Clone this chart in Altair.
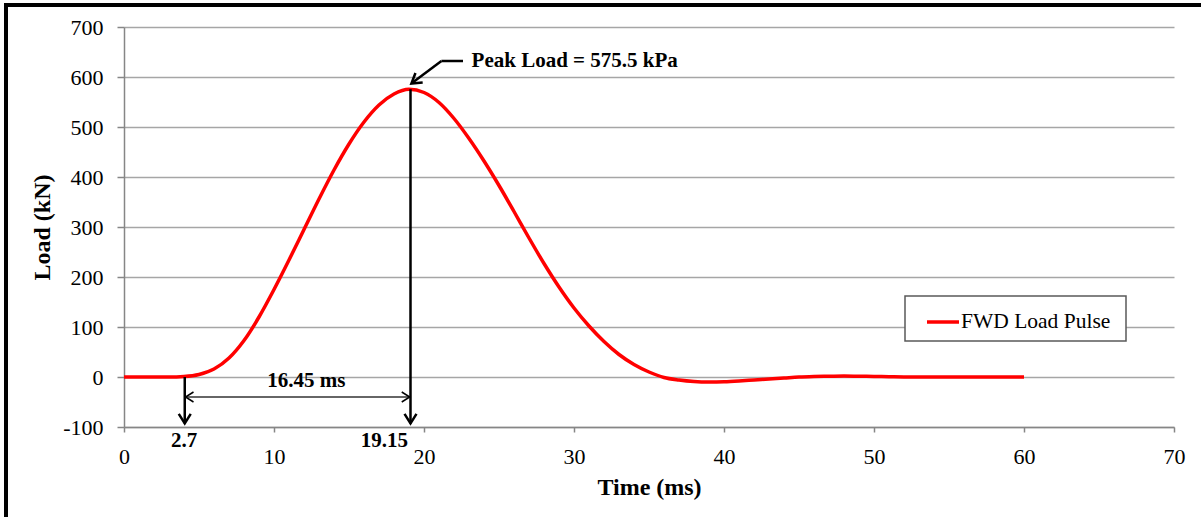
import altair as alt
import pandas as pd

# ---- data ----
time_ms = list(range(0, 61))
load_kn = [0, 0, 0, 0, 1, 5, 16, 38, 73, 120, 175, 234, 295, 356, 414, 466, 510, 544, 566,
           575.5,
           569, 549, 517, 477, 432, 383, 331, 278, 227, 180, 138, 102, 71, 45, 25, 10,
           -1, -6, -9, -10, -9.5, -8, -6, -4, -2, 0, 1, 1.5, 2, 1.5, 1, 0.5,
           0, 0, 0, 0, 0, 0, 0, 0, 0]
series_name = "FWD Load Pulse"

x_ticks = [0, 10, 20, 30, 40, 50, 60, 70]
y_ticks = [-100, 0, 100, 200, 300, 400, 500, 600, 700]

# annotation segments (data coordinates)
seg_x = [4.05, 19.1, 4.1, 22.6, 21.16]
seg_y = [0, 575.5, -40, 632, 632]
seg_x2 = [4.05, 19.1, 19.05, 21.16, 19.2]
seg_y2 = [-93, -93, -40, 632, 588]
seg_w = [2.5, 2.5, 1.5, 2.5, 2.5]
seg_c = ["#000000", "#000000", "#333333", "#000000", "#000000"]

# arrow heads
head_x = [4.05, 19.1, 4.1, 19.05, 19.16]
head_y = [-93, -93, -40, -40, 586.8]
head_angle = [90, 90, 180, 0, 143]
head_size = [144, 144, 100, 100, 144]
head_w = [2.5, 2.5, 1.5, 1.5, 2.5]

# annotation labels
lab_text = ["16.45 ms", "2.7", "19.15"]
lab_x = [12.15, 4.0, 17.35]
lab_y = [-20, -140, -140]
peak_text = ["Peak Load = 575.5 kPa"]
peak_x = [23.17]
peak_y = [620]

FONT = "Liberation Serif"

curve_df = pd.DataFrame({"t": time_ms, "load": load_kn, "series": series_name})
seg_df = pd.DataFrame({"x": seg_x, "y": seg_y, "x2": seg_x2, "y2": seg_y2, "w": seg_w, "c": seg_c})
head_df = pd.DataFrame({"x": head_x, "y": head_y, "a": head_angle, "s": head_size, "w": head_w})
lab_df = pd.DataFrame({"text": lab_text, "x": lab_x, "y": lab_y})
peak_df = pd.DataFrame({"text": peak_text, "x": peak_x, "y": peak_y})

xscale = alt.Scale(domain=[0, 70], nice=False)
yscale = alt.Scale(domain=[-100, 700], nice=False)

xaxis = alt.Axis(values=x_ticks, grid=False, title="Time (ms)",
                 domainColor="#868686", domainWidth=1.5,
                 tickColor="#868686", tickSize=5, tickWidth=1.5,
                 labelFont=FONT, labelFontSize=22, labelColor="black",
                 labelBaseline="alphabetic", labelPadding=31, labelFlush=False,
                 labelExpr="toString(datum.value)",
                 titleFont=FONT, titleFontSize=24, titleFontWeight="bold",
                 titleColor="black", titleBaseline="alphabetic", titleY=67)
yaxis = alt.Axis(values=y_ticks, grid=True, gridColor="#a6a6a6", gridWidth=1.5,
                 title="Load (kN)",
                 domainColor="#868686", domainWidth=1.5,
                 tickColor="#868686", tickSize=7, tickWidth=1.5,
                 labelFont=FONT, labelFontSize=22, labelColor="black",
                 labelPadding=14, labelFlush=False, labelExpr="toString(datum.value)",
                 titleFont=FONT, titleFontSize=24, titleFontWeight="bold",
                 titleColor="black", titleBaseline="alphabetic", titleAlign="center",
                 titleAngle=270, titleX=-75, titleY=200)

curve = alt.Chart(curve_df).mark_line(strokeWidth=3.5, interpolate="monotone").encode(
    x=alt.X("t:Q", scale=xscale, axis=xaxis),
    y=alt.Y("load:Q", scale=yscale, axis=yaxis),
    color=alt.Color("series:N", scale=alt.Scale(domain=[series_name], range=["#ff0000"]),
                    legend=alt.Legend(title=" ", titleOrient="right", titlePadding=8,
                                      titleFontSize=21, titleFont=FONT,
                                      orient="none", legendX=781, legendY=269,
                                      strokeColor="#595959", fillColor="white",
                                      padding=8, symbolType="stroke", symbolSize=1024,
                                      symbolStrokeWidth=3.5, symbolOffset=12, labelOffset=0,
                                      labelFont=FONT, labelFontSize=21.5, labelColor="black")),
)

segs = alt.Chart(seg_df).mark_rule(strokeCap="butt").encode(
    x=alt.X("x:Q", scale=xscale), y=alt.Y("y:Q", scale=yscale),
    x2="x2:Q", y2="y2:Q",
    strokeWidth=alt.StrokeWidth("w:Q", scale=None),
    color=alt.Color("c:N", scale=None),
)

chevron = "M-1.6,-1L0,0L-1.6,1"
heads = alt.Chart(head_df).mark_point(shape=chevron, filled=False, color="black",
                                      opacity=1, strokeJoin="miter", strokeCap="butt").encode(
    x=alt.X("x:Q", scale=xscale), y=alt.Y("y:Q", scale=yscale),
    angle=alt.Angle("a:Q", scale=None),
    size=alt.Size("s:Q", scale=None),
    strokeWidth=alt.StrokeWidth("w:Q", scale=None),
)

labels = alt.Chart(lab_df).mark_text(font=FONT, fontSize=21, fontWeight="bold", color="black",
                                     align="center", baseline="alphabetic").encode(
    x=alt.X("x:Q", scale=xscale), y=alt.Y("y:Q", scale=yscale), text="text:N")

peak = alt.Chart(peak_df).mark_text(font=FONT, fontSize=21, fontWeight="bold", color="black",
                                    align="left", baseline="alphabetic").encode(
    x=alt.X("x:Q", scale=xscale), y=alt.Y("y:Q", scale=yscale), text="text:N")

border_left = alt.Chart(curve_df).mark_rule(color="black", strokeWidth=3).encode(
    x=alt.value(-118), y=alt.value(-22), y2=alt.value(495))
border_top = alt.Chart(curve_df).mark_rule(color="black", strokeWidth=3).encode(
    x=alt.value(-119.5), x2=alt.value(1080), y=alt.value(-22))

chart = alt.layer(curve, segs, heads, labels, peak, border_left, border_top).properties(
    width=1050, height=400,
    autosize=alt.AutoSizeParams(type="none"),
    padding={"left": 124, "top": 27, "right": 27, "bottom": 90},
    background="white",
).configure_view(stroke=None).configure_legend(strokeWidth=1.5)

chart.save("out.html", embed_options={"renderer": "svg", "actions": False})
